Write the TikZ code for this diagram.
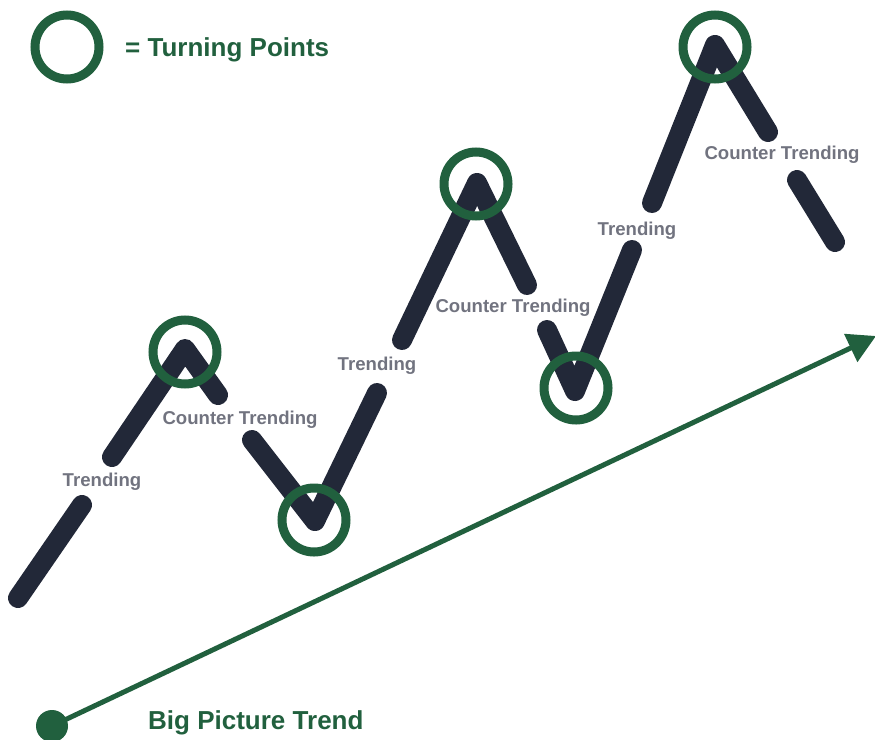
\documentclass[tikz,border=0pt]{standalone}
\usepackage{fontspec}
\setmainfont{Liberation Sans}
\usetikzlibrary{arrows.meta}
\definecolor{tpgreen}{HTML}{21603E}
\definecolor{navy}{HTML}{222838}
\definecolor{lblgray}{HTML}{71737F}
\tikzset{
  turn/.style={circle, draw=tpgreen, line width=9pt, minimum size=64pt, inner sep=0pt},
  seg/.style={draw=navy, line width=20pt, line cap=round, line join=round},
  lbl/.style={text=lblgray, font=\bfseries\fontsize{18.6}{20}\selectfont, inner sep=0pt},
  title/.style={text=tpgreen, font=\bfseries\fontsize{26}{28}\selectfont, inner sep=0pt, anchor=west},
}
\begin{document}
\begin{tikzpicture}[x=1pt, y=-1pt]
\useasboundingbox (0,0) rectangle (875,739);
% legend
\node[turn] (legend) at (67,47) {};
\node[title] (legendtext) at (125,50) {= Turning Points};
% trend segments
\coordinate (a1) at (18,598); \coordinate (a2) at (82,505);
\coordinate (b1) at (112,457); \coordinate (p1) at (185,349); \coordinate (b2) at (218,395);
\coordinate (c1) at (252,440); \coordinate (v1) at (315,521); \coordinate (c2) at (377,393);
\coordinate (d1) at (402,340); \coordinate (p2) at (477,183); \coordinate (d2) at (527,285);
\coordinate (e1) at (547,330); \coordinate (v2) at (575,391); \coordinate (e2) at (632,250);
\coordinate (f1) at (652,203); \coordinate (p3) at (715,45); \coordinate (f2) at (768,132);
\coordinate (g1) at (797,180); \coordinate (g2) at (835,242);
\draw[seg] (a1) -- (a2);
\draw[seg] (b1) -- (p1) -- (b2);
\draw[seg] (c1) -- (v1) -- (c2);
\draw[seg] (d1) -- (p2) -- (d2);
\draw[seg] (e1) -- (v2) -- (e2);
\draw[seg] (f1) -- (p3) -- (f2);
\draw[seg] (g1) -- (g2);
% turning point circles
\node[turn] (t1) at (185,352) {};
\node[turn] (t2) at (314,520) {};
\node[turn] (t3) at (476,184) {};
\node[turn] (t4) at (576,388) {};
\node[turn] (t5) at (715,47) {};
% labels
\node[lbl] (l1) at (102,482) {Trending};
\node[lbl] (l2) at (240,420) {Counter Trending};
\node[lbl] (l3) at (377,366) {Trending};
\node[lbl] (l4) at (513,308) {Counter Trending};
\node[lbl] (l5) at (637,231) {Trending};
\node[lbl] (l6) at (782,155) {Counter Trending};
% big picture trend
\node[circle, fill=tpgreen, minimum size=32pt, inner sep=0pt] (start) at (52,726) {};
\coordinate (tip) at (876,336);
\draw[tpgreen, line width=5pt, -{Triangle[length=28pt, width=30pt]}] (start.center) -- (tip);
\node[title] (bigtext) at (148,723) {Big Picture Trend};
\end{tikzpicture}
\end{document}
